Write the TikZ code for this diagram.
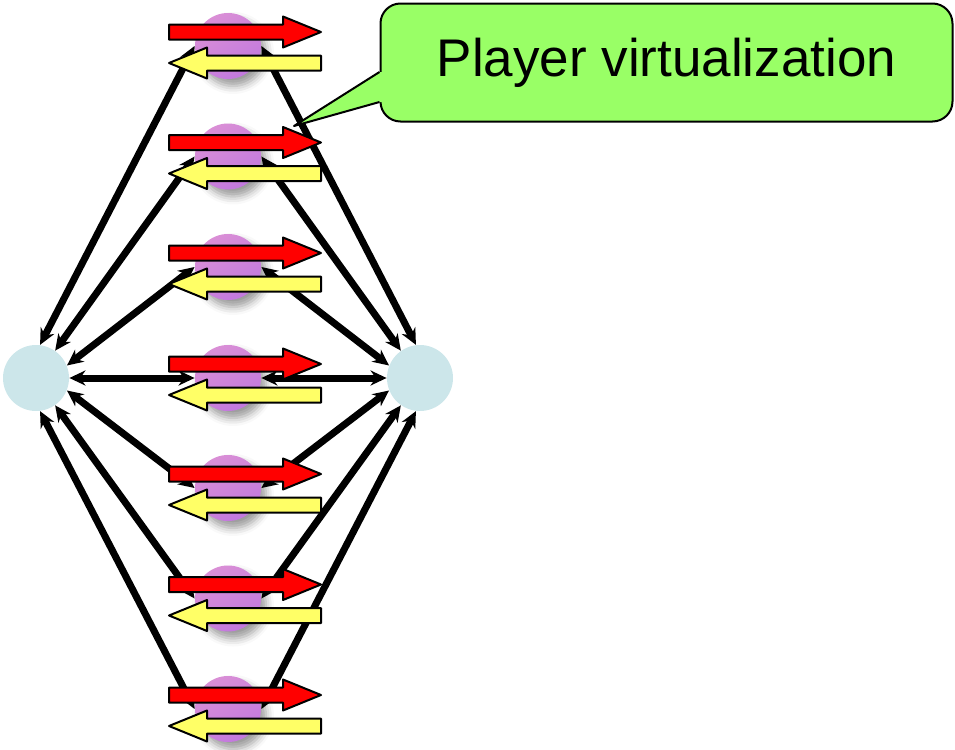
\documentclass[tikz,border=0pt]{standalone}
\usepackage{fontspec}
\setmainfont{Liberation Sans}
\usetikzlibrary{arrows.meta,shadows.blur}

\definecolor{hostblue}{HTML}{CCE6EA}
\definecolor{plumA}{HTML}{DA8FD6}
\definecolor{plumB}{HTML}{C279DE}
\definecolor{fwdred}{HTML}{FF0000}
\definecolor{backyellow}{HTML}{FFFF66}
\definecolor{notegreen}{HTML}{99FF66}

\begin{document}
\begin{tikzpicture}[x=0.5pt,y=-0.5pt,line join=round,
  host/.style={circle,fill=hostblue,minimum size=33pt,inner sep=0pt},
  player/.style={circle,minimum size=33pt,inner sep=0pt,
    top color=plumA,bottom color=plumB,shading angle=35,
    blur shadow={shadow xshift=2.5pt,shadow yshift=-3.5pt,shadow blur radius=4pt,shadow opacity=40}},
  link/.style={line width=3.5pt,{Stealth[length=8pt,width=7.5pt]}-{Stealth[length=8pt,width=7.5pt]}},
  fwd/.style={fill=fwdred,draw=black,line width=1pt},
  back/.style={fill=backyellow,draw=black,line width=1pt},
  note/.style={rounded corners=10pt,fill=notegreen,draw=black,line width=1pt,
    minimum width=286pt,minimum height=59pt,inner sep=0pt,font=\fontsize{26.5}{30}\selectfont}]
  \useasboundingbox (0,0) rectangle (955,750);

  % the two end hosts
  \node[host] (hostL) at (36,378) {};
  \node[host] (hostR) at (420,378) {};

  % players in the middle
  \foreach \i/\yy in {1/46,2/156.5,3/267,4/378,5/488,6/598.5,7/709}
    \node[player] (p\i) at (228,\yy) {};

  % links from both hosts
  \foreach \i/\a/\b in {1/83/97,2/55/125,3/22/158,4/0/180,5/-22/202,6/-55/235,7/-83/263}{
    \draw[link] (hostL.\a) -- (p\i.west);
    \draw[link] (hostR.\b) -- (p\i.east);
  }

  % traffic arrows over each player
  \foreach \yy in {46,156.5,267,378,488,598.5,709}{
    \draw[fwd] (169,\yy-21.5) -- (283,\yy-21.5) -- (283,\yy-29.5) -- (321,\yy-14)
      -- (283,\yy+1.5) -- (283,\yy-6.5) -- (169,\yy-6.5) -- cycle;
    \draw[back] (321,\yy+9.5) -- (207,\yy+9.5) -- (207,\yy+1.5) -- (169,\yy+17)
      -- (207,\yy+32.5) -- (207,\yy+24.5) -- (321,\yy+24.5) -- cycle;
  }

  % callout
  \node[note] (callout) at (666.5,62.5) {Player virtualization};
  \coordinate (noteTip) at (294,126);
  \fill[notegreen] ([yshift=-4.75pt]callout.west) -- (noteTip) -- ([yshift=-19.75pt]callout.west)
    -- ([xshift=3pt,yshift=-19.75pt]callout.west) -- ([xshift=3pt,yshift=-4.75pt]callout.west) -- cycle;
  \draw[line width=1pt] ([yshift=-4.75pt]callout.west) -- (noteTip) -- ([yshift=-19.75pt]callout.west);
\end{tikzpicture}
\end{document}
